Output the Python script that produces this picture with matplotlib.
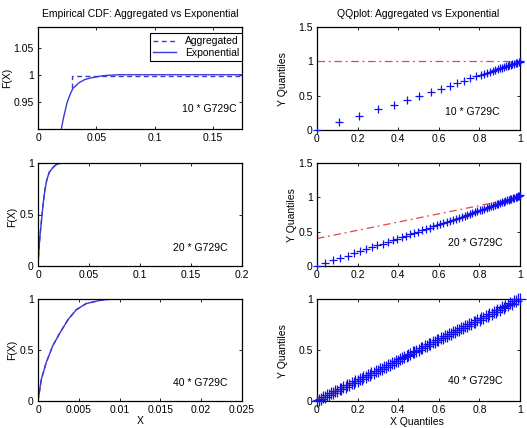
import matplotlib
matplotlib.use("Agg")
import matplotlib.pyplot as plt

plt.rcParams['font.family'] = ['Liberation Sans', 'DejaVu Sans']
plt.rcParams['font.size'] = 7.5

# empirical CDFs
agg10_x = [0.029, 0.029, 0.175]
agg10_y = [0.975, 0.998, 0.998]
exp10_x = [0.020, 0.022, 0.025, 0.028, 0.030, 0.035, 0.040, 0.045, 0.050, 0.055, 0.060, 0.070, 0.175]
exp10_y = [0.900, 0.922, 0.949, 0.966, 0.975, 0.985, 0.991, 0.994, 0.996, 0.998, 0.999, 1.000, 1.000]

cdf20_x = [0.0, 0.0005, 0.001, 0.002, 0.0035, 0.005, 0.0065, 0.0085, 0.011, 0.015, 0.018, 0.022, 0.03, 0.18]
cdf20_y = [0.0, 0.10, 0.17, 0.30, 0.45, 0.60, 0.72, 0.83, 0.91, 0.96, 0.985, 0.997, 1.0, 1.0]

cdf40_x = [0.0, 0.0004, 0.001, 0.0018, 0.0027, 0.0037, 0.0047, 0.0059, 0.0076, 0.0088, 0.012, 0.025]
cdf40_y = [0.0, 0.21, 0.375, 0.54, 0.67, 0.80, 0.895, 0.955, 0.987, 0.998, 1.0, 1.0]

# QQ plot points
qq10_x = [0.0, 0.110, 0.209, 0.300, 0.377, 0.445, 0.503, 0.564, 0.613, 0.654, 0.692, 0.723,
          0.753, 0.783, 0.806, 0.822, 0.838, 0.852, 0.866, 0.878, 0.890, 0.901, 0.911, 0.921,
          0.930, 0.939, 0.947, 0.955, 0.962, 0.970, 0.978, 0.986, 0.993, 1.0, 1.0]
qq10_y = [0.0, 0.110, 0.205, 0.307, 0.366, 0.444, 0.493, 0.551, 0.595, 0.644, 0.683, 0.717,
          0.751, 0.780, 0.805, 0.820, 0.835, 0.849, 0.862, 0.874, 0.886, 0.897, 0.907, 0.917,
          0.926, 0.935, 0.943, 0.951, 0.958, 0.966, 0.974, 0.982, 0.990, 0.997, 1.0]

qq20_x = [0.0, 0.039, 0.077, 0.113, 0.151, 0.184, 0.212, 0.241, 0.269, 0.297, 0.323, 0.348,
          0.373, 0.396, 0.417, 0.438, 0.459, 0.479, 0.499, 0.518, 0.537, 0.555, 0.573, 0.590,
          0.607, 0.623, 0.639, 0.655, 0.670, 0.685, 0.699, 0.713, 0.727, 0.740, 0.753, 0.766,
          0.778, 0.790, 0.802, 0.813, 0.824, 0.835, 0.846, 0.856, 0.866, 0.876, 0.885, 0.894,
          0.903, 0.912, 0.920, 0.928, 0.936, 0.944, 0.951, 0.958, 0.965, 0.972, 0.978, 0.984,
          0.990, 0.995, 1.0]
qq20_y = [0.0, 0.050, 0.087, 0.120, 0.152, 0.184, 0.215, 0.244, 0.271, 0.300, 0.327, 0.351,
          0.376, 0.399, 0.420, 0.441, 0.462, 0.482, 0.502, 0.521, 0.540, 0.558, 0.576, 0.593,
          0.610, 0.627, 0.643, 0.659, 0.674, 0.689, 0.704, 0.718, 0.732, 0.746, 0.759, 0.772,
          0.785, 0.797, 0.809, 0.821, 0.833, 0.845, 0.856, 0.867, 0.878, 0.889, 0.899, 0.909,
          0.919, 0.929, 0.938, 0.947, 0.956, 0.965, 0.973, 0.981, 0.989, 0.997, 1.004, 1.011,
          1.018, 1.024, 1.030]

qq40_x = [0.000, 0.009, 0.021, 0.030, 0.041, 0.049, 0.061, 0.070, 0.079, 0.091, 0.100,
          0.111, 0.119, 0.130, 0.141, 0.150, 0.158, 0.171, 0.180, 0.189, 0.201,
          0.210, 0.221, 0.229, 0.240, 0.251, 0.260, 0.268, 0.281, 0.290, 0.299,
          0.311, 0.320, 0.331, 0.339, 0.350, 0.361, 0.370, 0.378, 0.391, 0.400,
          0.409, 0.421, 0.430, 0.441, 0.449, 0.460, 0.471, 0.480, 0.488, 0.501,
          0.510, 0.519, 0.531, 0.540, 0.551, 0.559, 0.570, 0.581, 0.590, 0.598,
          0.611, 0.620, 0.629, 0.641, 0.650, 0.661, 0.669, 0.680, 0.691, 0.700,
          0.708, 0.721, 0.730, 0.739, 0.751, 0.760, 0.771, 0.779, 0.790, 0.801,
          0.810, 0.818, 0.831, 0.840, 0.849, 0.861, 0.870, 0.881, 0.889, 0.900,
          0.911, 0.920, 0.928, 0.941, 0.950, 0.959, 0.971, 0.980, 0.991, 1.000]
qq40_y = [0.000, 0.014, 0.017, 0.036, 0.038, 0.056, 0.058, 0.075, 0.074, 0.096, 0.097,
          0.116, 0.114, 0.136, 0.137, 0.156, 0.153, 0.177, 0.176, 0.195, 0.197,
          0.216, 0.217, 0.235, 0.236, 0.257, 0.256, 0.274, 0.277, 0.296, 0.295,
          0.317, 0.316, 0.337, 0.335, 0.356, 0.357, 0.376, 0.374, 0.397, 0.396,
          0.415, 0.417, 0.436, 0.437, 0.455, 0.456, 0.477, 0.476, 0.494, 0.497,
          0.516, 0.515, 0.537, 0.536, 0.557, 0.555, 0.576, 0.577, 0.596, 0.594,
          0.617, 0.616, 0.635, 0.637, 0.656, 0.657, 0.675, 0.676, 0.697, 0.696,
          0.714, 0.717, 0.736, 0.735, 0.757, 0.756, 0.777, 0.775, 0.796, 0.797,
          0.816, 0.814, 0.837, 0.836, 0.855, 0.857, 0.876, 0.877, 0.895, 0.896,
          0.917, 0.916, 0.934, 0.937, 0.956, 0.955, 0.977, 0.976, 0.997, 1.000]

ref_x = [0.0, 1.0]
ref10_y = [1.0, 1.0]
ref20_y = [0.4, 1.0]
ref40_y = [0.0, 1.0]

labels = ['10 * G729C', '20 * G729C', '40 * G729C']

blue = '#3a3ad8'
red = '#e04848'

fig = plt.figure(figsize=(5.27, 4.28), dpi=100)
W, H = 527.0, 428.0

def make_ax(l, t, r, b):
    ax = fig.add_axes([l / W, 1 - b / H, (r - l) / W, (b - t) / H])
    ax.tick_params(direction='in', top=True, right=True, length=2.5, width=0.6, pad=3, labelsize=7.5)
    for s in ax.spines.values():
        s.set_linewidth(0.9)
    return ax

def set_ticks(ax, xt, xl, yt, yl):
    ax.set_xticks(xt)
    ax.set_xticklabels(xl)
    ax.set_yticks(yt)
    ax.set_yticklabels(yl)

# left column: CDFs
ax1 = make_ax(38, 27, 242, 129)
l1, = ax1.plot(agg10_x, agg10_y, color=blue, lw=1, linestyle=(0, (3.5, 2.5)), label='Aggregated')
l2, = ax1.plot(exp10_x, exp10_y, color=blue, lw=1, label='Exponential')
ax1.set_xlim(0, 0.175)
ax1.set_ylim(0.9, 1.088)
set_ticks(ax1, [0, 0.05, 0.1, 0.15], ['0', '0.05', '0.1', '0.15'],
          [0.95, 1.0, 1.05], ['0.95', '1', '1.05'])
ax1.set_title('Empirical CDF: Aggregated vs Exponential', fontsize=7.5, pad=7)
leg = ax1.legend(loc='upper right', bbox_to_anchor=(1.0, 0.94), borderaxespad=0,
                 fancybox=False, edgecolor='black', fontsize=7.5, handlelength=2.2,
                 borderpad=0.3, labelspacing=0.15, handletextpad=0.8, framealpha=1)
leg.get_frame().set_linewidth(0.8)
ax1.set_ylabel('F(X)')
ax1.yaxis.set_label_coords(-0.125, 0.5)
ax1.text(0.975, 0.2, labels[0], transform=ax1.transAxes, ha='right', va='center')

ax2 = make_ax(38, 163, 242, 266)
ax2.plot(cdf20_x, cdf20_y, color=blue, lw=1, linestyle=(0, (3.5, 2.5)))
ax2.plot(cdf20_x, cdf20_y, color=blue, lw=1)
ax2.set_xlim(0, 0.2)
ax2.set_ylim(0, 1)
set_ticks(ax2, [0, 0.05, 0.1, 0.15, 0.2], ['0', '0.05', '0.1', '0.15', '0.2'],
          [0, 0.5, 1], ['0', '0.5', '1'])
ax2.set_ylabel('F(X)')
ax2.yaxis.set_label_coords(-0.10, 0.476)
ax2.text(0.93, 0.175, labels[1], transform=ax2.transAxes, ha='right', va='center')

ax3 = make_ax(38, 299, 242, 401)
ax3.plot(cdf40_x, cdf40_y, color=blue, lw=1, linestyle=(0, (3.5, 2.5)))
ax3.plot(cdf40_x, cdf40_y, color=blue, lw=1)
ax3.set_xlim(0, 0.025)
ax3.set_ylim(0, 1)
set_ticks(ax3, [0, 0.005, 0.01, 0.015, 0.02, 0.025],
          ['0', '0.005', '0.01', '0.015', '0.02', '0.025'],
          [0, 0.5, 1], ['0', '0.5', '1'])
ax3.set_ylabel('F(X)')
ax3.yaxis.set_label_coords(-0.10, 0.5)
ax3.set_xlabel('X')
ax3.xaxis.set_label_coords(0.5, -0.145)
ax3.text(0.927, 0.18, labels[2], transform=ax3.transAxes, ha='right', va='center')

# right column: QQ plots
dashdot = (0, (6, 3, 1.5, 3))
qq_axes = []
rows = [(27, 130), (163, 266), (299, 401)]
qx = [qq10_x, qq20_x, qq40_x]
qy = [qq10_y, qq20_y, qq40_y]
refs = [ref10_y, ref20_y, ref40_y]
tpos = [(0.9, 0.17), (0.916, 0.22), (0.916, 0.2)]
msize = [6, 6, 8]
for i in range(3):
    t, b = rows[i]
    ax = make_ax(317, t, 520, b)
    ax.plot(ref_x, refs[i], color=red, lw=0.9, linestyle=dashdot, zorder=2)
    ax.plot(qx[i], qy[i], linestyle='none', marker='+', color='#1010f0',
            markersize=msize[i], markeredgewidth=0.9, zorder=3, clip_on=False)
    ax.set_xlim(0, 1)
    if i < 2:
        ax.set_ylim(0, 1.5)
        set_ticks(ax, [0, 0.2, 0.4, 0.6, 0.8, 1], ['0', '0.2', '0.4', '0.6', '0.8', '1'],
                  [0, 0.5, 1, 1.5], ['0', '0.5', '1', '1.5'])
    else:
        ax.set_ylim(0, 1)
        set_ticks(ax, [0, 0.2, 0.4, 0.6, 0.8, 1], ['0', '0.2', '0.4', '0.6', '0.8', '1'],
                  [0, 0.5, 1], ['0', '0.5', '1'])
    ax.set_ylabel('Y Quantiles')
    ax.yaxis.set_label_coords(-0.143 if i != 1 else -0.10, 0.49)
    ax.text(tpos[i][0], tpos[i][1], labels[i], transform=ax.transAxes, ha='right', va='center')
    qq_axes.append(ax)

qq_axes[0].set_title('QQplot: Aggregated vs Exponential', fontsize=7.5, pad=7)
qq_axes[2].set_xlabel('X Quantiles')
qq_axes[2].xaxis.set_label_coords(0.49, -0.16)

fig.savefig('out.png', dpi=100)
